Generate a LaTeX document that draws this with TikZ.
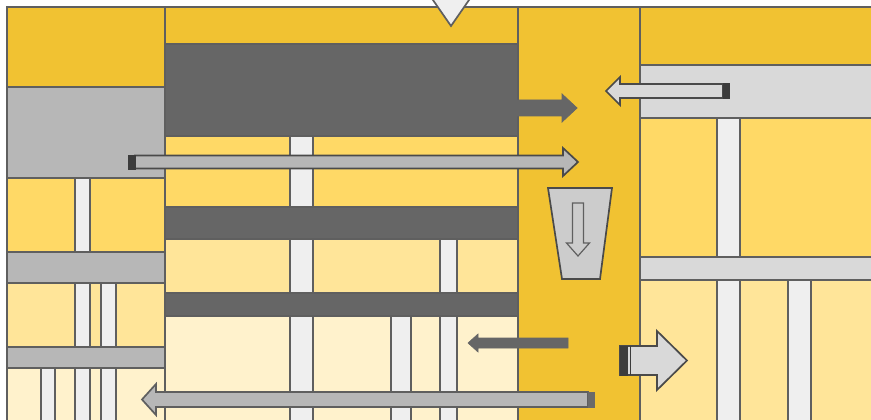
\documentclass[tikz,border=0pt]{standalone}
\definecolor{ydark}{HTML}{F1C232}
\definecolor{ymid}{HTML}{FFD966}
\definecolor{ylight}{HTML}{FFE599}
\definecolor{ypale}{HTML}{FFF2CC}
\definecolor{gdark}{HTML}{666666}
\definecolor{gmid}{HTML}{B7B7B7}
\definecolor{glight}{HTML}{D9D9D9}
\definecolor{gpale}{HTML}{EFEFEF}
\definecolor{gtrap}{HTML}{CCCCCC}
\definecolor{edge}{HTML}{5F5F5F}
\definecolor{arrowedge}{HTML}{4A4A4A}
\definecolor{capdark}{HTML}{3C3C3C}
\definecolor{capmid}{HTML}{6A6A6A}
\begin{document}
\begin{tikzpicture}[x=1pt,y=-1pt,
  cell/.style={draw=edge,line width=1.7pt,line join=miter},
  band/.style={fill=gdark,draw=edge,line width=1.7pt},
  strip/.style={fill=gpale,draw=edge,line width=1.7pt},
  blockarrow/.style={draw=arrowedge,line width=1.7pt,line join=miter}]
\useasboundingbox (0,0) rectangle (871,420);
\clip (0,0) rectangle (871,420);
% ---------- left column ----------
\path[cell,fill=ydark] (7,7) rectangle (165,87);
\path[cell,fill=gmid] (7,87) rectangle (165,178);
\path[cell,fill=ymid] (7,178) rectangle (165,252);
\path[strip] (75,178) rectangle (90,252);
\path[cell,fill=gmid] (7,252) rectangle (165,283);
\path[cell,fill=ylight] (7,283) rectangle (165,347);
\path[strip] (75,283) rectangle (90,347);
\path[strip] (101,283) rectangle (116,347);
\path[cell,fill=gmid] (7,347) rectangle (165,368);
\path[cell,fill=ypale] (7,368) rectangle (165,430);
\path[strip] (41,368) rectangle (55,430);
\path[strip] (75,368) rectangle (90,430);
\path[strip] (101,368) rectangle (116,430);
% ---------- middle column ----------
\path[cell,fill=ydark] (165,7) rectangle (518,44);
\path[band] (165,44) rectangle (518,136);
\path[cell,fill=ymid] (165,136) rectangle (518,207);
\path[strip] (290,136) rectangle (313,207);
\path[band] (165,207) rectangle (518,239);
\path[cell,fill=ylight] (165,239) rectangle (518,293);
\path[strip] (290,239) rectangle (313,293);
\path[strip] (440,239) rectangle (457,293);
\path[band] (165,293) rectangle (518,316);
\path[cell,fill=ypale] (165,316) rectangle (518,430);
\path[strip] (290,316) rectangle (313,430);
\path[strip] (391,316) rectangle (411,430);
\path[strip] (440,316) rectangle (457,430);
% ---------- right yellow column ----------
\path[cell,fill=ydark] (518,7) rectangle (640,430);
% ---------- right section ----------
\path[cell,fill=ydark] (640,7) rectangle (880,65);
\path[cell,fill=glight] (640,65) rectangle (880,118);
\path[cell,fill=ymid] (640,118) rectangle (880,257);
\path[strip] (717,118) rectangle (740,257);
\path[cell,fill=glight] (640,257) rectangle (880,280);
\path[cell,fill=ylight] (640,280) rectangle (880,430);
\path[strip] (717,280) rectangle (740,430);
\path[strip] (788,280) rectangle (811,430);
% ---------- top triangle ----------
\path[blockarrow,draw=edge,fill=gpale] (429.5,-5) -- (472.5,-5) -- (451,26) -- cycle;
% ---------- dark arrow out of dark box ----------
\path[fill=gdark,draw=gdark,line width=0.8pt,line join=miter]
  (516,100) -- (562,100) -- (562,94) -- (577,108) -- (562,122) -- (562,116) -- (516,116) -- cycle;
% ---------- long gray arrow to the right ----------
\path[blockarrow,fill=gmid]
  (135,155.5) -- (563,155.5) -- (563,148) -- (578,162) -- (563,176) -- (563,168.5) -- (135,168.5) -- cycle;
\path[fill=capdark,draw=capdark,line width=0.6pt] (128.5,155) rectangle (135,169);
% ---------- top-right arrow to the left ----------
\path[blockarrow,fill=glight]
  (723,84) -- (620,84) -- (620,77) -- (606,91) -- (620,105) -- (620,98) -- (723,98) -- cycle;
\path[fill=capdark,draw=capdark,line width=0.6pt] (723,83.5) rectangle (729,98.5);
% ---------- trapezoid with down arrow ----------
\path[blockarrow,fill=gtrap] (548,188) -- (612,188) -- (600,279) -- (562,279) -- cycle;
\path[draw=edge,line width=1.2pt,fill=gtrap,line join=miter]
  (572.5,203) -- (583.5,203) -- (583.5,243) -- (589.5,243) -- (578,256) -- (566.5,243) -- (572.5,243) -- cycle;
% ---------- small dark arrow to the left ----------
\path[fill=gdark,draw=gdark,line width=0.6pt,line join=miter]
  (568,338) -- (478,338) -- (478,334) -- (468,343) -- (478,352) -- (478,348) -- (568,348) -- cycle;
% ---------- right block arrow ----------
\path[blockarrow,fill=glight]
  (620,346) -- (657,346) -- (657,331) -- (687,360.5) -- (657,390) -- (657,375) -- (620,375) -- cycle;
\path[fill=capdark,draw=capdark,line width=0.6pt] (620,346) rectangle (627,375);
\draw[capdark,line width=1.5pt] (630.5,346) -- (630.5,375);
% ---------- bottom long arrow to the left ----------
\path[blockarrow,draw=edge,fill=gmid]
  (588,392) -- (156,392) -- (156,384) -- (142,399.5) -- (156,415) -- (156,407) -- (588,407) -- cycle;
\path[fill=capmid,draw=capmid,line width=0.6pt] (588,392) rectangle (594,407);
\end{tikzpicture}
\end{document}
